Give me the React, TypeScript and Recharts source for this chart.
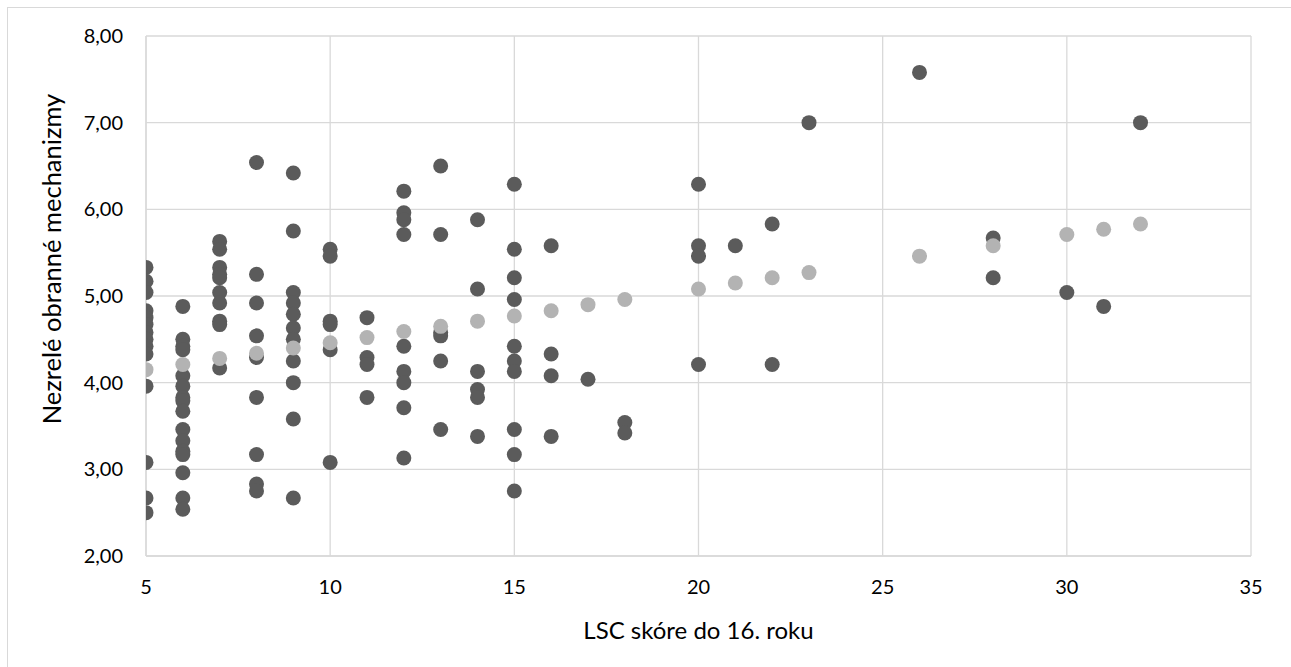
import React from 'react';
import { ScatterChart, Scatter, XAxis, YAxis, CartesianGrid, Label } from 'recharts';

// Observed points: LSC score (x) and immature defence mechanisms (y)
const observedScore = [
  5, 5, 5, 5, 5, 5, 5, 5, 5, 5, 5, 5, 5, 5,
  6, 6, 6, 6, 6, 6, 6, 6, 6, 6, 6, 6, 6, 6, 6, 6,
  7, 7, 7, 7, 7, 7, 7, 7, 7, 7,
  8, 8, 8, 8, 8, 8, 8, 8, 8,
  9, 9, 9, 9, 9, 9, 9, 9, 9, 9, 9,
  10, 10, 10, 10, 10, 10,
  11, 11, 11, 11,
  12, 12, 12, 12, 12, 12, 12, 12, 12,
  13, 13, 13, 13, 13, 13,
  14, 14, 14, 14, 14, 14,
  15, 15, 15, 15, 15, 15, 15, 15, 15, 15,
  16, 16, 16, 16,
  17,
  18, 18,
  20, 20, 20, 20,
  21,
  22, 22,
  23,
  26,
  28, 28,
  30,
  31,
  32,
];
const observedDefense = [
  5.33, 5.17, 5.04, 4.83, 4.75, 4.67, 4.58, 4.5, 4.42, 4.33, 3.96, 3.08, 2.67, 2.5,
  4.88, 4.5, 4.42, 4.38, 4.08, 3.96, 3.83, 3.79, 3.67, 3.46, 3.33, 3.21, 3.17, 2.96, 2.67, 2.54,
  5.63, 5.54, 5.33, 5.25, 5.21, 5.04, 4.92, 4.71, 4.67, 4.17,
  6.54, 5.25, 4.92, 4.54, 4.29, 3.83, 3.17, 2.83, 2.75,
  6.42, 5.75, 5.04, 4.92, 4.79, 4.63, 4.5, 4.25, 4.0, 3.58, 2.67,
  5.54, 5.46, 4.71, 4.67, 4.38, 3.08,
  4.75, 4.29, 4.21, 3.83,
  6.21, 5.96, 5.88, 5.71, 4.42, 4.13, 4.0, 3.71, 3.13,
  6.5, 5.71, 4.58, 4.54, 4.25, 3.46,
  5.88, 5.08, 4.13, 3.92, 3.83, 3.38,
  6.29, 5.54, 5.21, 4.96, 4.42, 4.25, 4.13, 3.46, 3.17, 2.75,
  5.58, 4.33, 4.08, 3.38,
  4.04,
  3.54, 3.42,
  6.29, 5.58, 5.46, 4.21,
  5.58,
  5.83, 4.21,
  7.0,
  7.58,
  5.67, 5.21,
  5.04,
  4.88,
  7.0,
];

// Predicted (trend) points
const trendScore = [5, 6, 7, 8, 9, 10, 11, 12, 13, 14, 15, 16, 17, 18, 20, 21, 22, 23, 26, 28, 30, 31, 32];
const trendDefense = [
  4.15, 4.21, 4.28, 4.34, 4.4, 4.46, 4.52, 4.59, 4.65, 4.71, 4.77, 4.83, 4.9, 4.96,
  5.08, 5.15, 5.21, 5.27, 5.46, 5.58, 5.71, 5.77, 5.83,
];

const xTicks = [5, 10, 15, 20, 25, 30, 35];
const yTicks = [2, 3, 4, 5, 6, 7, 8];

const xTitle = 'LSC skóre do 16. roku';
const yTitle = 'Nezrelé obranné mechanizmy';

const observedData = observedScore.map((x, i) => ({ x, y: observedDefense[i] }));
const trendData = trendScore.map((x, i) => ({ x, y: trendDefense[i] }));

const FONT = 'Lato, "Open Sans", sans-serif';
const TICK_FS = 20;
const TITLE_FS = 24;
const Y_TITLE_FS = 25.5;

const dot = (color: string) => (props: any) => (
  <circle cx={props.cx} cy={props.cy} r={7.5} fill={color} />
);

const YTitle = () => (
  <text
    x={52}
    y={259}
    transform="rotate(-90 52 259)"
    textAnchor="middle"
    dy="0.36em"
    fill="#000"
    fontSize={Y_TITLE_FS}
    fontFamily={FONT}
  >
    {yTitle}
  </text>
);

export default function App() {
  return (
    <div
      style={{
        position: 'absolute',
        left: 0,
        top: 0,
        width: 1291,
        height: 667,
        overflow: 'hidden',
        background: '#fff',
      }}
    >
      <div
        style={{
          position: 'absolute',
          left: 7,
          top: 7,
          width: 1400,
          height: 800,
          border: '1px solid #d9d9d9',
        }}
      />
      <div style={{ position: 'absolute', left: 0, top: 0 }}>
        <ScatterChart
          width={1291}
          height={667}
          margin={{ top: 36, right: 40, bottom: 0, left: 0 }}
          style={{ fontFamily: FONT }}
        >
          <CartesianGrid stroke="#d9d9d9" strokeWidth={1.3} />
          <XAxis
            type="number"
            dataKey="x"
            domain={[5, 35]}
            ticks={xTicks}
            interval={0}
            allowDataOverflow
            height={111}
            tickSize={0}
            tickMargin={24}
            axisLine={{ stroke: '#d9d9d9', strokeWidth: 1.3 }}
            tickLine={false}
            tick={{ fill: '#000', fontSize: TICK_FS, fontFamily: FONT }}
          >
            <Label
              value={xTitle}
              position="insideBottom"
              offset={28}
              style={{ fill: '#000', fontSize: TITLE_FS, fontFamily: FONT }}
            />
          </XAxis>
          <YAxis
            type="number"
            dataKey="y"
            domain={[2, 8]}
            ticks={yTicks}
            interval={0}
            allowDataOverflow
            width={146}
            tickSize={0}
            tickMargin={23}
            axisLine={{ stroke: '#d9d9d9', strokeWidth: 1.3 }}
            tickLine={false}
            tickFormatter={(v: number) => v.toFixed(2).replace('.', ',')}
            tick={{ fill: '#000', fontSize: TICK_FS, fontFamily: FONT }}
          >
            <Label content={YTitle} />
          </YAxis>
          <Scatter
            data={observedData}
            fill="#5b5b5b"
            shape={dot('#5b5b5b')}
            isAnimationActive={false}
          />
          <Scatter
            data={trendData}
            fill="#b3b3b3"
            shape={dot('#b3b3b3')}
            isAnimationActive={false}
          />
        </ScatterChart>
      </div>
    </div>
  );
}
